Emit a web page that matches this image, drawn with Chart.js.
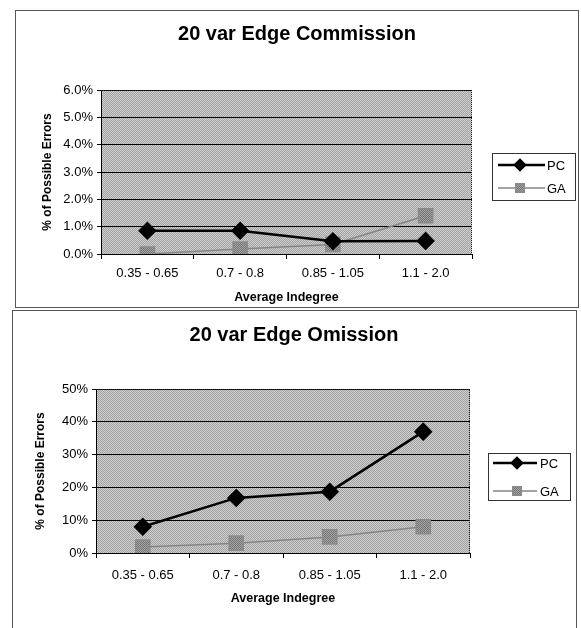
<!DOCTYPE html>
<html>
<head>
<meta charset="utf-8">
<script src="https://cdn.jsdelivr.net/npm/chart.js@4.4.0/dist/chart.umd.min.js"></script>
<style>
  body { margin: 0; background: #fff; width: 581px; height: 628px; position: relative; overflow: hidden; }
  canvas { position: absolute; }
  #commission { left: 15px; top: 10px; }
  #omission { left: 12px; top: 310px; }
  .frame { position: absolute; box-sizing: border-box; border: 1px solid #555; pointer-events: none; }
  #frame1 { left: 15px; top: 10px; width: 564px; height: 298px; }
  #frame2 { left: 12px; top: 310px; width: 565px; height: 340px; }
</style>
</head>
<body>
<canvas id="commission" width="564" height="297"></canvas>
<canvas id="omission" width="564" height="318"></canvas>
<div class="frame" id="frame1"></div>
<div class="frame" id="frame2"></div>
<script>
// data (values in %)
const categories = ['0.35 - 0.65', '0.7 - 0.8', '0.85 - 1.05', '1.1 - 2.0'];
const seriesNames = ['PC', 'GA'];

const commissionPC = [0.85, 0.85, 0.47, 0.48];
const commissionGA = [0.0, 0.18, 0.35, 1.4];
const commissionTicks = ['0.0%', '1.0%', '2.0%', '3.0%', '4.0%', '5.0%', '6.0%'];

const omissionPC = [8.0, 16.8, 18.7, 37.0];
const omissionGA = [1.8, 3.0, 4.9, 8.0];
const omissionTicks = ['0%', '10%', '20%', '30%', '40%', '50%'];

Chart.defaults.font.family = '"Liberation Sans", Arial, sans-serif';
Chart.defaults.color = '#000';

// 2x2 checker, looks like the halftone of the scan
function stipple(ctx, light, dark) {
  const c = document.createElement('canvas');
  c.width = 2; c.height = 2;
  const g = c.getContext('2d');
  g.fillStyle = light; g.fillRect(0, 0, 2, 2);
  g.fillStyle = dark; g.fillRect(0, 0, 1, 1); g.fillRect(1, 1, 1, 1);
  return ctx.createPattern(c, 'repeat');
}

const plotBg = {
  id: 'plotBg',
  beforeDraw(chart) {
    const {ctx, chartArea: a} = chart;
    ctx.save();
    ctx.fillStyle = stipple(ctx, '#d0d0d0', '#a0a0a0');
    ctx.fillRect(a.left, a.top, a.right - a.left, a.bottom - a.top);
    ctx.restore();
  },
  beforeDatasetsDraw(chart) {
    const {ctx, chartArea: a} = chart;
    ctx.save();
    ctx.strokeStyle = '#222';
    ctx.lineWidth = 1;
    ctx.setLineDash([1, 1]);
    ctx.beginPath();
    ctx.moveTo(a.left, a.top + 0.5);
    ctx.lineTo(a.right - 0.5, a.top + 0.5);
    ctx.lineTo(a.right - 0.5, a.bottom);
    ctx.stroke();
    ctx.restore();
  }
};

// legend in the old spreadsheet style: line sample with the marker on it
const lineLegend = {
  id: 'lineLegend',
  afterDraw(chart, args, opts) {
    const {ctx} = chart;
    const b = opts.box;
    ctx.save();
    ctx.fillStyle = '#fff';
    ctx.fillRect(b.x, b.y, b.w, b.h);
    ctx.strokeStyle = '#333';
    ctx.lineWidth = 1;
    ctx.strokeRect(b.x + 0.5, b.y + 0.5, b.w, b.h);
    chart.data.datasets.forEach((ds, i) => {
      const y = opts.rows[i];
      ctx.strokeStyle = ds.borderColor;
      ctx.lineWidth = ds.borderWidth;
      ctx.beginPath();
      ctx.moveTo(opts.lineFrom, y);
      ctx.lineTo(opts.lineTo, y);
      ctx.stroke();
      ctx.fillStyle = ds.pointBackgroundColor;
      ctx.strokeStyle = ds.pointBorderColor;
      Chart.helpers.drawPoint(ctx, {pointStyle: ds.pointStyle, radius: opts.markRadius[i], borderWidth: 1, rotation: 0}, opts.mark, y);
      ctx.fillStyle = '#000';
      ctx.font = '13px "Liberation Sans", Arial, sans-serif';
      ctx.textBaseline = 'middle';
      ctx.fillText(ds.label, opts.textX, y + 1);
    });
    ctx.restore();
  }
};

function makeChart(id, title, pc, ga, max, step, tickLabels, g) {
  const canvas = document.getElementById(id);
  const gaFill = stipple(canvas.getContext('2d'), '#a8a8a8', '#707070');
  return new Chart(canvas, {
    type: 'line',
    data: {
      labels: categories,
      datasets: [
        {
          label: seriesNames[0], data: pc,
          borderColor: '#000', borderWidth: 2.5,
          pointStyle: 'rectRot', pointRadius: 7.5,
          pointBackgroundColor: '#000', pointBorderColor: '#000',
        },
        {
          label: seriesNames[1], data: ga,
          borderColor: '#858585', borderWidth: 1.5,
          pointStyle: 'rect', pointRadius: 10,
          pointBackgroundColor: gaFill, pointBorderColor: '#8a8a8a',
        },
      ],
    },
    options: {
      responsive: false,
      animation: false,
      layout: { padding: 0 },
      plugins: {
        legend: { display: false },
        tooltip: { enabled: false },
        title: {
          display: true, text: title,
          font: { size: 20, weight: 'bold' },
          padding: { top: g.titleTop, bottom: g.titleBottom },
        },
        lineLegend: g.legend,
      },
      scales: {
        x: {
          offset: true,
          afterFit(s) { s.height = g.xHeight; },
          grid: { offset: true, drawOnChartArea: false, drawTicks: true, tickLength: 5, color: '#000' },
          border: { display: true, color: '#000', width: 1 },
          ticks: { font: { size: 13 }, padding: g.xTickPad, maxRotation: 0 },
          title: { display: true, text: 'Average Indegree', font: { size: 12.5, weight: 'bold' }, padding: { top: 0, bottom: g.xTitleBottom } },
        },
        y: {
          min: 0, max: max,
          afterFit(s) { s.width = g.yWidth; },
          grid: { color: '#000', lineWidth: 1, tickLength: 4 },
          border: { display: true, color: '#000', width: 1 },
          ticks: { stepSize: step, font: { size: 13 }, padding: 4, callback: (v, i) => tickLabels[i] },
          title: { display: true, text: '% of Possible Errors', font: { size: 12, weight: 'bold' }, padding: { top: g.yTitleTop, bottom: 0 } },
        },
        legendSpace: {
          type: 'linear', position: 'right', display: true,
          afterFit(s) { s.width = g.rightSpace; },
          grid: { display: false, drawTicks: false },
          ticks: { display: false },
          border: { display: false },
        },
      },
    },
    plugins: [plotBg, lineLegend],
  });
}

makeChart('commission', '20 var Edge Commission', commissionPC, commissionGA, 6, 1, commissionTicks, {
  titleTop: 12, titleBottom: 44,
  xHeight: 53, xTickPad: 7, xTitleBottom: 1.5,
  yWidth: 86, yTitleTop: 25, rightSpace: 107,
  legend: { box: { x: 477, y: 143, w: 83, h: 47 }, rows: [155, 178], lineFrom: 483, lineTo: 530, mark: 505, textX: 532, markRadius: [5, 6] },
});

makeChart('omission', '20 var Edge Omission', omissionPC, omissionGA, 50, 10, omissionTicks, {
  titleTop: 13, titleBottom: 42,
  xHeight: 75, xTickPad: 10, xTitleBottom: 21.5,
  yWidth: 84, yTitleTop: 21, rightSpace: 106,
  legend: { box: { x: 476, y: 143, w: 82, h: 47 }, rows: [153, 181], lineFrom: 481, lineTo: 525, mark: 505, textX: 528, markRadius: [5, 6] },
});
</script>
</body>
</html>
